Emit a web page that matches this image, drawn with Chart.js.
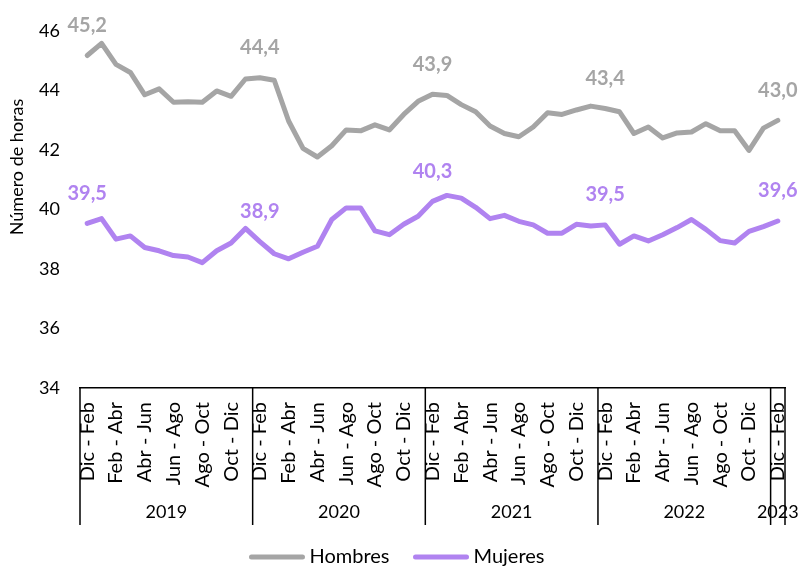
<!DOCTYPE html>
<html>
<head>
<meta charset="utf-8">
<script src="https://cdn.jsdelivr.net/npm/chart.js@4"></script>
<style>
  body { margin: 0; background: #fff; }
  #wrap { width: 798px; height: 568px; position: relative; }
</style>
</head>
<body>
<div id="wrap"><canvas id="chart"></canvas></div>
<script>
// rolling quarters, one label per month
const quarterNames = ['Dic - Feb', 'Ene - Mar', 'Feb - Abr', 'Mar - May', 'Abr - Jun', 'May - Jul',
  'Jun - Ago', 'Jul - Sep', 'Ago - Oct', 'Sep - Nov', 'Oct - Dic', 'Nov - Ene'];
const years = ['2019', '2020', '2021', '2022', '2023'];
const yearCounts = [12, 12, 12, 12, 1];

const categories = [];
years.forEach((y, i) => {
  for (let k = 0; k < yearCounts[i]; k++) categories.push(quarterNames[k]);
});

const hombres = [45.17, 45.58, 44.87, 44.60, 43.85, 44.05, 43.60, 43.62, 43.60, 43.98, 43.80, 44.38,
  44.42, 44.34, 42.97, 42.05, 41.76, 42.14, 42.67, 42.64, 42.84, 42.67, 43.19, 43.63,
  43.87, 43.83, 43.52, 43.28, 42.80, 42.55, 42.44, 42.77, 43.25, 43.19, 43.34, 43.47,
  43.39, 43.28, 42.55, 42.77, 42.40, 42.57, 42.60, 42.88, 42.64, 42.64, 41.98, 42.73,
  42.99];
const mujeres = [39.53, 39.69, 39.00, 39.11, 38.72, 38.61, 38.45, 38.40, 38.21, 38.61, 38.87, 39.36,
  38.92, 38.51, 38.34, 38.56, 38.76, 39.66, 40.05, 40.05, 39.28, 39.15, 39.50, 39.77,
  40.27, 40.47, 40.38, 40.07, 39.69, 39.80, 39.60, 39.48, 39.20, 39.20, 39.50, 39.44,
  39.48, 38.83, 39.11, 38.94, 39.15, 39.39, 39.66, 39.33, 38.95, 38.87, 39.26, 39.42,
  39.61];

// points that get a value label (every Dic - Feb)
const labelledPoints = [0, 12, 24, 36, 48];

const GRAY = '#A5A5A5';
const PURPLE = '#B083F0';
const FONT = 'Lato, "Open Sans", sans-serif';

// value labels above the marked points
const valueLabels = {
  id: 'valueLabels',
  afterDatasetsDraw(chart) {
    const ctx = chart.ctx;
    ctx.save();
    ctx.font = 'bold 20px ' + FONT;
    ctx.textAlign = 'center';
    ctx.textBaseline = 'middle';
    chart.data.datasets.forEach((ds, di) => {
      const meta = chart.getDatasetMeta(di);
      ctx.fillStyle = ds.borderColor;
      labelledPoints.forEach(i => {
        const pt = meta.data[i];
        ctx.fillText(ds.data[i].toFixed(1).replace('.', ','), pt.x, pt.y - 30);
      });
    });
    ctx.restore();
  }
};

// year row, separators, axis title and legend
const extras = {
  id: 'extras',
  afterDraw(chart) {
    const ctx = chart.ctx;
    const xs = chart.scales.x;
    const area = chart.chartArea;
    const half = (xs.getPixelForValue(1) - xs.getPixelForValue(0)) / 2;
    const bottom = area.bottom + 137;
    ctx.save();

    ctx.strokeStyle = '#000';
    ctx.lineWidth = 1.5;
    ctx.fillStyle = '#000';
    ctx.font = '18px ' + FONT;
    ctx.textAlign = 'center';
    ctx.textBaseline = 'middle';
    let start = 0;
    years.forEach((y, i) => {
      const left = xs.getPixelForValue(start) - half;
      const right = xs.getPixelForValue(start + yearCounts[i] - 1) + half;
      ctx.beginPath();
      ctx.moveTo(left, area.bottom);
      ctx.lineTo(left, bottom);
      ctx.stroke();
      if (i === years.length - 1) {
        ctx.beginPath();
        ctx.moveTo(right, area.bottom);
        ctx.lineTo(right, bottom);
        ctx.stroke();
      }
      ctx.fillText(y, (left + right) / 2, area.bottom + 124);
      start += yearCounts[i];
    });

    // y axis title
    ctx.save();
    ctx.translate(17, 167);
    ctx.rotate(-Math.PI / 2);
    ctx.fillText('Número de horas', 0, 0);
    ctx.restore();

    // legend
    ctx.font = '20px ' + FONT;
    ctx.textAlign = 'left';
    const lineLen = 55, gap = 5, between = 24;
    const items = chart.data.datasets.map(ds => ({ text: ds.label, color: ds.borderColor, w: ctx.measureText(ds.label).width }));
    let total = 0;
    items.forEach((it, i) => { total += lineLen + gap + it.w + (i ? between : 0); });
    let x = 397 - total / 2;
    const ly = 557;
    items.forEach(it => {
      ctx.strokeStyle = it.color;
      ctx.lineWidth = 5;
      ctx.lineCap = 'round';
      ctx.beginPath();
      ctx.moveTo(x + 2, ly);
      ctx.lineTo(x + lineLen - 2, ly);
      ctx.stroke();
      ctx.fillStyle = '#000';
      ctx.fillText(it.text, x + lineLen + gap, ly);
      x += lineLen + gap + it.w + between;
    });
    ctx.restore();
  }
};

new Chart(document.getElementById('chart'), {
  type: 'line',
  data: {
    labels: categories,
    datasets: [
      {
        label: 'Hombres',
        data: hombres,
        borderColor: GRAY,
        backgroundColor: GRAY,
        borderWidth: 5,
        borderJoinStyle: 'round',
        borderCapStyle: 'round',
        pointRadius: 0,
        tension: 0
      },
      {
        label: 'Mujeres',
        data: mujeres,
        borderColor: PURPLE,
        backgroundColor: PURPLE,
        borderWidth: 5,
        borderJoinStyle: 'round',
        borderCapStyle: 'round',
        pointRadius: 0,
        tension: 0
      }
    ]
  },
  options: {
    responsive: true,
    maintainAspectRatio: false,
    animation: false,
    layout: { padding: { top: 25, right: 13, bottom: 43, left: 0 } },
    plugins: {
      legend: { display: false },
      tooltip: { enabled: false }
    },
    scales: {
      x: {
        offset: true,
        grid: { display: false, drawTicks: false },
        border: { display: true, color: '#000', width: 1.5 },
        afterFit: (scale) => {
          scale.height = 137;
          scale.paddingLeft = 0;
          scale.paddingRight = 0;
        },
        ticks: {
          autoSkip: false,
          minRotation: 90,
          maxRotation: 90,
          padding: 14,
          color: '#000',
          font: { family: FONT, size: 20 },
          callback: function (value, index) {
            return index % 2 === 0 ? this.getLabelForValue(value) : '';
          }
        }
      },
      y: {
        min: 34,
        max: 46,
        grid: { display: false, drawTicks: false },
        border: { display: false },
        afterFit: (scale) => { scale.width = 80; },
        ticks: {
          stepSize: 2,
          padding: 20,
          color: '#000',
          font: { family: FONT, size: 18 }
        }
      }
    }
  },
  plugins: [valueLabels, extras]
});
</script>
</body>
</html>
